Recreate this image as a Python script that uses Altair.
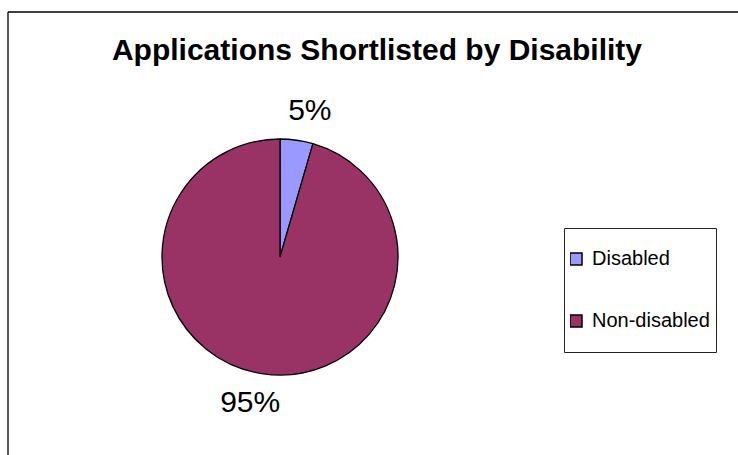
import altair as alt
import pandas as pd

# ---- data ----
categories = ["Disabled", "Non-disabled"]
shares = [4.5, 95.5]
pct_labels = ["5%", "95%"]
colors = ["#9999FF", "#993366"]
sort_order = [0, 1]

df = pd.DataFrame({
    "category": categories,
    "share": shares,
    "label": pct_labels,
    "order": sort_order,
})

FONT = "Liberation Sans"
CX, CY, R = 280, 257, 118

base = alt.Chart(df).encode(
    theta=alt.Theta("share:Q", stack=True),
    order=alt.Order("order:Q"),
)

pie = base.mark_arc(outerRadius=R, stroke="black", strokeWidth=1.3).encode(
    x=alt.value(CX),
    y=alt.value(CY),
    color=alt.Color(
        "category:N",
        scale=alt.Scale(domain=categories, range=colors),
        legend=alt.Legend(
            title=None,
            orient="none",
            legendX=564,
            legendY=228,
            padding=6,
            strokeColor="#222222",
            fillColor="white",
            symbolType="square",
            symbolSize=144,
            symbolStrokeColor="black",
            symbolStrokeWidth=1.5,
            symbolOpacity=1,
            symbolOffset=-4,
            labelFont=FONT,
            labelFontSize=20,
            labelColor="black",
            labelOffset=6,
            clipHeight=50,
            rowPadding=12,
        ),
    ),
)

labels = base.mark_text(
    radius=149, thetaOffset=0.06, font=FONT, fontSize=30, color="black",
    baseline="middle", align="center",
).encode(
    x=alt.value(CX),
    y=alt.value(CY),
    text="label:N",
)

frame_data = alt.Data(values=[{"k": 0}])
top_line = alt.Chart(frame_data).mark_rule(color="black", strokeWidth=1.3).encode(
    x=alt.value(8), x2=alt.value(738), y=alt.value(12)
)
left_line = alt.Chart(frame_data).mark_rule(color="black", strokeWidth=1.3).encode(
    x=alt.value(8), y=alt.value(12), y2=alt.value(455)
)

chart = alt.layer(top_line, left_line, pie, labels).properties(
    width=738,
    height=455,
    padding=0,
    autosize="none",
    title=alt.TitleParams(
        "Applications Shortlisted by Disability",
        font=FONT,
        fontSize=30,
        fontWeight="bold",
        color="black",
        anchor="middle",
        frame="group",
        offset=0,
        dx=8,
        dy=66,
    ),
).configure_view(stroke=None)

chart.save("out.html", embed_options={"renderer": "svg", "actions": False})
